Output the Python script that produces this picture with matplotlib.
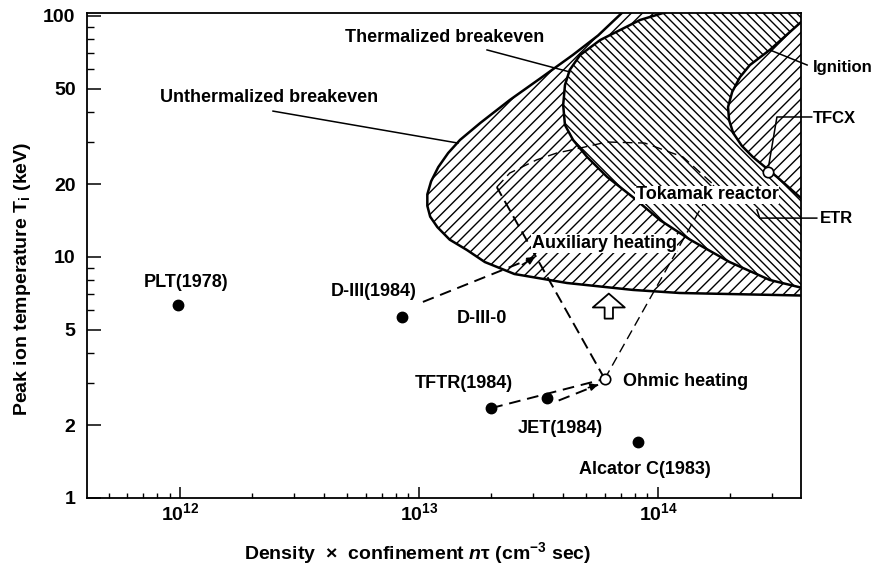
import matplotlib
matplotlib.use("Agg")
import matplotlib.pyplot as plt
from matplotlib.ticker import FixedLocator, NullFormatter

plt.rcParams['font.family'] = ['Liberation Sans', 'DejaVu Sans']
plt.rcParams['mathtext.fontset'] = 'custom'
plt.rcParams['mathtext.rm'] = 'Liberation Sans:bold'
plt.rcParams['mathtext.it'] = 'Liberation Sans:italic:bold'
plt.rcParams['mathtext.bf'] = 'Liberation Sans:bold'
plt.rcParams['hatch.linewidth'] = 1.0

# ---------------- data ----------------
machines = ['PLT(1978)', 'D-III(1984)', 'TFTR(1984)', 'JET(1984)', 'Alcator C(1983)']
machine_ntau = [9.8e11, 8.5e12, 2.0e13, 3.42e13, 8.2e13]
machine_Ti = [6.3, 5.65, 2.36, 2.59, 1.70]

ohmic_ntau = 5.97e13
ohmic_Ti = 3.12
tfcx_ntau = 2.89e14
tfcx_Ti = 22.6

# Unthermalized breakeven boundary (top -> nose -> right edge)
unthermal_ntau = [7.8e13, 7.04e13, 5.6e13, 4.39e13, 3.2e13, 2.39e13, 1.80e13, 1.48e13,
                  1.32e13, 1.20e13, 1.12e13, 1.08e13, 1.08e13, 1.11e13, 1.19e13, 1.34e13,
                  1.58e13, 1.88e13, 2.5e13, 4.15e13, 7.84e13, 1.23e14, 4.6e14]
unthermal_Ti = [115, 102.9, 83.0, 68.9, 55.0, 44.8, 36.0, 30.6,
                27.0, 23.6, 20.6, 18.2, 16.3, 14.7, 13.3, 11.8,
                10.7, 9.53, 8.5, 7.80, 7.30, 7.09, 6.9]

# Thermalized breakeven boundary
thermal_ntau = [1.28e14, 1.23e14, 8.38e13, 5.72e13, 4.71e13, 4.26e13, 4.07e13, 4.0e13,
                4.07e13, 4.40e13, 5.04e13, 6.11e13, 7.84e13, 1.02e14, 1.36e14, 1.99e14,
                2.93e14, 4.6e14]
thermal_Ti = [115, 108, 96.2, 79.5, 68.9, 59.7, 51.7, 42.7,
              35.3, 30.6, 26.0, 21.5, 17.7, 14.2, 11.8, 9.53,
              8.03, 7.2]

# Ignition boundary
ignition_ntau = [4.6e14, 3.92e14, 2.93e14, 2.42e14, 2.20e14, 2.04e14, 1.96e14, 1.98e14,
                 2.06e14, 2.24e14, 2.49e14, 3.14e14, 3.92e14, 4.6e14]
ignition_Ti = [105, 93.5, 72.3, 62.6, 55.8, 48.4, 41.9, 37.0,
               32.7, 28.9, 26.0, 21.5, 17.7, 15.8]

# Auxiliary heating dashed dome
aux_dome_ntau = [2.11e13, 2.39e13, 3.10e13, 3.76e13, 4.70e13, 6.10e13, 8.79e13, 1.27e14, 1.71e14]
aux_dome_Ti = [19.5, 22.3, 25.3, 27.0, 28.3, 30.0, 29.7, 26.0, 19.9]

x_ticks = [1e12, 1e13, 1e14]
x_ticklabels = [r'$\mathbf{10^{12}}$', r'$\mathbf{10^{13}}$', r'$\mathbf{10^{14}}$']
y_ticks = [1, 2, 5, 10, 20, 50, 100]
y_ticklabels = ['1', '2', '5', '10', '20', '50', '100']
y_minor = [3, 4, 6, 7, 8, 9, 30, 40, 60, 70, 80, 90]

# ---------------- figure ----------------
W, H = 878, 568
fig = plt.figure(figsize=(W / 100, H / 100), dpi=100)
ax = fig.add_axes([86.7 / W, 1 - 498 / H, (801 - 86.7) / W, (498 - 13.3) / H])
ax.set_xscale('log')
ax.set_yscale('log')
ax.set_xlim(4.05e11, 3.96e14)
ax.set_ylim(1, 102.6)

# regions
ax.fill(unthermal_ntau + [2e15, 2e15], unthermal_Ti + [6.9, 1000], facecolor='white',
        edgecolor='black', hatch='///', linewidth=0, zorder=1)
ax.fill(thermal_ntau + [2e15, 2e15], thermal_Ti + [7.2, 1000], facecolor='white',
        edgecolor='black', hatch='\\\\\\\\', linewidth=0, zorder=1.1)
ax.fill(ignition_ntau, ignition_Ti, facecolor='white',
        edgecolor='black', hatch='///', linewidth=0, zorder=1.2)
for xs, ys in [(unthermal_ntau, unthermal_Ti), (thermal_ntau, thermal_Ti),
               (ignition_ntau, ignition_Ti)]:
    ax.plot(xs, ys, color='black', lw=1.8, zorder=2, solid_joinstyle='round')

# dashed dome and cone
ax.plot(aux_dome_ntau, aux_dome_Ti, color='black', lw=1.0, ls=(0, (7, 4)), zorder=3)
ax.plot([ohmic_ntau, aux_dome_ntau[0]], [ohmic_Ti, aux_dome_Ti[0]], color='black',
        lw=1.4, ls=(0, (6, 3)), zorder=3)
ax.plot([ohmic_ntau, aux_dome_ntau[-1]], [ohmic_Ti, aux_dome_Ti[-1]], color='black',
        lw=1.0, ls=(0, (7, 4)), zorder=3)

# dashed tracks
ax.plot([machine_ntau[2], ohmic_ntau], [machine_Ti[2], ohmic_Ti], color='black',
        lw=1.4, ls=(0, (6, 3.5)), zorder=3)
jet_tip = (5.6e13, 2.95)
ax.plot([machine_ntau[3] * 1.12, jet_tip[0]], [machine_Ti[3] * 0.98, jet_tip[1]],
        color='black', lw=1.4, ls=(0, (6, 3.5)), zorder=3)
ax.annotate('', xy=jet_tip, xytext=(5.1e13, 2.87),
            arrowprops=dict(arrowstyle='-|>', color='black', lw=1.2,
                            mutation_scale=11, shrinkA=0, shrinkB=0), zorder=3)
d3_start = (1.035e13, 6.51)
d3_tip = (3.05e13, 10.0)
ax.plot([d3_start[0], d3_tip[0]], [d3_start[1], d3_tip[1]], color='black',
        lw=1.4, ls=(0, (6, 3.5)), zorder=3)
ax.annotate('', xy=d3_tip, xytext=(2.7e13, 9.3),
            arrowprops=dict(arrowstyle='-|>', color='black', lw=1.2,
                            mutation_scale=11, shrinkA=0, shrinkB=0), zorder=3)

# open up arrow
ax.annotate('', xy=(6.21e13, 7.05), xytext=(6.21e13, 5.55),
            arrowprops=dict(arrowstyle='simple,head_width=1.15,head_length=0.5,tail_width=0.3',
                            fc='white', ec='black', lw=1.3, mutation_scale=20,
                            shrinkA=0, shrinkB=0), zorder=3)

# points
ax.plot(machine_ntau, machine_Ti, 'o', color='black', ms=7.5, zorder=4)
ax.plot([ohmic_ntau, tfcx_ntau], [ohmic_Ti, tfcx_Ti], 'o', mfc='white', mec='black',
        mew=1.2, ms=7.5, zorder=5, clip_on=False)

# labels
tkw = dict(fontsize=13, fontweight='bold', color='black', zorder=6)
ax.text(1.06e12, 7.80, 'PLT(1978)', ha='center', va='center', **tkw)
ax.text(6.46e12, 7.16, 'D-III(1984)', ha='center', va='center', **tkw)
ax.text(1.83e13, 5.53, 'D-III-0', ha='center', va='center', **tkw)
ax.text(1.54e13, 3.00, 'TFTR(1984)', ha='center', va='center', **tkw)
ax.text(3.88e13, 1.95, 'JET(1984)', ha='center', va='center', **tkw)
ax.text(8.81e13, 1.31, 'Alcator C(1983)', ha='center', va='center', **tkw)
ax.text(7.13e13, 3.03, 'Ohmic heating', ha='left', va='center', **tkw)
ax.text(5.93e13, 11.4, 'Auxiliary heating', ha='center', va='center',
        bbox=dict(fc='white', ec='none', pad=0.5), **tkw)
ax.text(1.60e14, 18.1, 'Tokamak reactor', ha='center', va='center',
        bbox=dict(fc='white', ec='none', pad=0.5), **tkw)
ax.text(1.27e13, 81.8, 'Thermalized breakeven', ha='center', va='center', **tkw)
ax.text(2.34e12, 46.1, 'Unthermalized breakeven', ha='center', va='center', **tkw)
rkw = dict(tkw, fontsize=12)
ax.text(4.45e14, 61.4, 'Ignition', ha='left', va='center', clip_on=False, **rkw)
ax.text(4.43e14, 37.7, 'TFCX', ha='left', va='center', clip_on=False, **rkw)
ax.text(4.74e14, 14.4, 'ETR', ha='left', va='center', clip_on=False, **rkw)

# leader lines
lkw = dict(color='black', lw=1.1, zorder=6, clip_on=False)
ax.plot([1.92e13, 4.26e13], [72.3, 58.6], **lkw)
ax.plot([2.44e12, 1.45e13], [40.3, 29.7], **lkw)
ax.plot([2.93e14, 4.2e14], [72.3, 62.6], **lkw)
ax.plot([4.39e14, 3.14e14, 2.90e14], [38.1, 38.1, 23.9], **lkw)
ax.plot([4.61e14, 2.66e14, 2.59e14], [14.5, 14.5, 15.7], **lkw)

# axes styling
ax.set_xticks(x_ticks)
ax.set_xticklabels(x_ticklabels, fontsize=14)
ax.xaxis.set_minor_locator(FixedLocator([m * 10 ** e for e in range(11, 15) for m in range(2, 10)]))
ax.xaxis.set_minor_formatter(NullFormatter())
ax.set_yticks(y_ticks)
ax.set_yticklabels(y_ticklabels, fontsize=14, fontweight='bold')
ax.yaxis.set_minor_locator(FixedLocator(y_minor))
ax.yaxis.set_minor_formatter(NullFormatter())
ax.tick_params(axis='x', which='major', direction='in', length=8, width=1.1, pad=3)
ax.tick_params(axis='x', which='minor', direction='in', length=3.5, width=1.0)
ax.tick_params(axis='y', which='major', direction='in', length=10, width=1.1, pad=8)
ax.tick_params(axis='y', which='minor', direction='in', length=5, width=1.0)
for s in ax.spines.values():
    s.set_linewidth(1.3)

fig.text(418 / W, 1 - 553 / H, 'Density  \u00d7  confinement $\\mathit{n}$\u03c4 (cm$^{-3}$ sec)',
         ha='center', va='center', fontsize=14, fontweight='bold')
fig.text(23 / W, 1 - 279 / H, 'Peak ion temperature T$_{\\mathregular{i}}$ (keV)',
         ha='center', va='center', rotation=90, fontsize=14, fontweight='bold')

fig.savefig('out.png', dpi=100)
